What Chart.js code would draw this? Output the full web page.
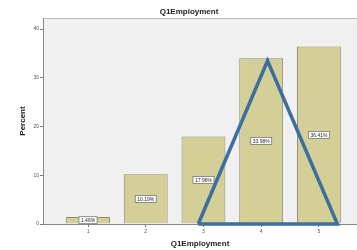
<!DOCTYPE html>
<html>
<head>
<meta charset="utf-8">
<script src="https://cdn.jsdelivr.net/npm/chart.js@4"></script>
<style>
  html, body { margin: 0; padding: 0; background: #fff; }
  #wrap { width: 357px; height: 250px; }
</style>
</head>
<body>
<div id="wrap"><canvas id="chart" width="357" height="250"></canvas></div>
<script>
const categories = [1, 2, 3, 4, 5];
const percents = [1.46, 10.19, 17.96, 33.98, 36.41];
const yTicks = [0, 10, 20, 30, 40];
// the blue triangle drawn over the bars (x in category units, y in percent)
const lineX = [2.91, 4.11, 5.32, 2.91];
const lineY = [0, 33.5, 0, 0];

Chart.defaults.font.family = "'Liberation Sans', Arial, sans-serif";
Chart.defaults.color = "#555";

// grey plot background, top frame and the chart title
const frame = {
  id: "frame",
  beforeDraw(chart) {
    const { ctx, chartArea: a } = chart;
    ctx.save();
    ctx.fillStyle = "#f0f0f0";
    ctx.fillRect(a.left, a.top, a.right - a.left, a.bottom - a.top);
    ctx.strokeStyle = "#bbb";
    ctx.lineWidth = 1;
    ctx.beginPath();
    ctx.moveTo(a.left, a.top + 0.5);
    ctx.lineTo(a.right, a.top + 0.5);
    ctx.stroke();
    ctx.fillStyle = "#222";
    ctx.font = "bold 8px 'Liberation Sans', Arial, sans-serif";
    ctx.textAlign = "center";
    ctx.textBaseline = "middle";
    ctx.fillText("Q1Employment", 189, 12);
    ctx.restore();
  },
};

// boxed percent labels in the middle of each bar
const barLabels = {
  id: "barLabels",
  afterDatasetsDraw(chart) {
    const { ctx } = chart;
    const meta = chart.getDatasetMeta(0);
    ctx.save();
    ctx.font = "5px 'Liberation Sans', Arial, sans-serif";
    ctx.textAlign = "center";
    ctx.textBaseline = "middle";
    meta.data.forEach((bar, i) => {
      const txt = percents[i].toFixed(2) + "%";
      const w = ctx.measureText(txt).width + 4;
      const h = 7;
      const cx = bar.x;
      const cy = (bar.y + bar.base) / 2;
      ctx.fillStyle = "#fff";
      ctx.strokeStyle = "#777";
      ctx.lineWidth = 0.8;
      ctx.fillRect(cx - w / 2, cy - h / 2, w, h);
      ctx.strokeRect(cx - w / 2, cy - h / 2, w, h);
      ctx.fillStyle = "#222";
      ctx.fillText(txt, cx, cy + 0.3);
    });
    ctx.restore();
  },
};

new Chart(document.getElementById("chart"), {
  type: "bar",
  data: {
    datasets: [
      {
        type: "bar",
        data: categories.map((c, i) => ({ x: c, y: percents[i] })),
        backgroundColor: "#d4cf97",
        borderColor: "#8e8c78",
        borderWidth: 1,
        barPercentage: 0.76,
        categoryPercentage: 1,
        order: 2,
      },
      {
        type: "line",
        data: lineX.map((x, i) => ({ x: x, y: lineY[i] })),
        borderColor: "#3c6e9f",
        borderWidth: 3.5,
        borderJoinStyle: "miter",
        pointRadius: 0,
        fill: false,
        tension: 0,
        clip: false,
        order: 1,
      },
    ],
  },
  options: {
    responsive: false,
    animation: false,
    events: [],
    layout: { padding: { top: 18, left: 0, right: 0, bottom: 0 } },
    plugins: { legend: { display: false }, tooltip: { enabled: false } },
    scales: {
      x: {
        type: "linear",
        offset: false,
        min: 0.22,
        max: 5.66,
        afterBuildTicks: (s) => { s.ticks = categories.map((v) => ({ value: v })); },
        afterFit: (s) => { s.height = 26; },
        grid: { display: true, offset: false, drawOnChartArea: false, tickLength: 3, color: "#777" },
        border: { display: true, color: "#888" },
        ticks: { font: { size: 5 }, padding: 2, color: "#555" },
        title: {
          display: true,
          text: "Q1Employment",
          color: "#222",
          font: { size: 8, weight: "bold" },
          padding: { top: 0, bottom: 1.5 },
        },
      },
      y: {
        min: 0,
        max: 42.26,
        afterBuildTicks: (s) => { s.ticks = yTicks.map((v) => ({ value: v })); },
        afterFit: (s) => { s.width = 43; },
        grid: { display: true, drawOnChartArea: false, tickLength: 3, color: "#777" },
        border: { display: true, color: "#888" },
        ticks: { font: { size: 5 }, padding: 1, color: "#555" },
        title: {
          display: true,
          text: "Percent",
          color: "#222",
          font: { size: 8, weight: "bold" },
          padding: { top: 18, bottom: 0 },
        },
      },
    },
  },
  plugins: [frame, barLabels],
});
</script>
</body>
</html>
